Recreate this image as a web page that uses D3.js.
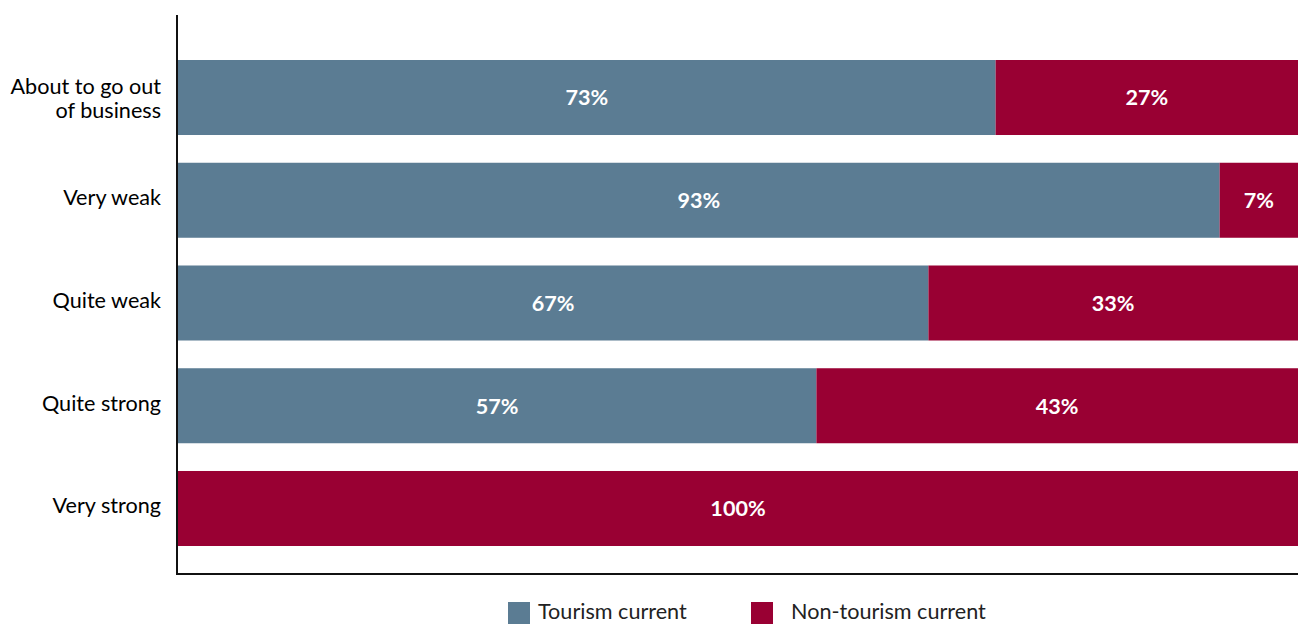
<!DOCTYPE html>
<html>
<head>
<meta charset="utf-8">
<script src="https://cdn.jsdelivr.net/npm/d3@7"></script>
<style>
  html, body { margin: 0; padding: 0; background: #fff; }
  svg { display: block; font-family: Lato, "Open Sans", sans-serif; }
</style>
</head>
<body>
<svg id="chart" width="1298" height="624"></svg>
<script>
// Business strength categories, top to bottom
const categories = ["About to go out of business", "Very weak", "Quite weak", "Quite strong", "Very strong"];
// Share of respondents (%) per category
const tourismCurrent = [73, 93, 67, 57, 0];
const nonTourismCurrent = [27, 7, 33, 43, 100];
const seriesNames = ["Tourism current", "Non-tourism current"];
const seriesColors = ["#5b7c93", "#990033"];

const svg = d3.select("#chart");
const W = 1298;
const axisX = 177, axisTop = 15, plotBottom = 574;
const fontSize = 21.6;

const x = d3.scaleLinear().domain([0, 100]).range([axisX + 1, W]);
const y = d3.scaleBand().domain(categories).range([60, 546]).paddingInner(0.27).paddingOuter(0);

const rows = categories.map((c, i) => ({ cat: c, vals: [tourismCurrent[i], nonTourismCurrent[i]] }));

// stacked bars with centred value labels
rows.forEach(r => {
  let acc = 0;
  r.vals.forEach((v, si) => {
    const x0 = x(acc), x1 = x(acc + v);
    acc += v;
    if (v <= 0) return;
    svg.append("rect")
      .attr("x", x0).attr("y", y(r.cat))
      .attr("width", x1 - x0).attr("height", y.bandwidth())
      .attr("fill", seriesColors[si]);
    svg.append("text")
      .attr("x", (x0 + x1) / 2).attr("y", y(r.cat) + y.bandwidth() / 2)
      .attr("dy", "0.36em").attr("text-anchor", "middle")
      .attr("fill", "#fff").attr("font-weight", "bold").attr("font-size", fontSize)
      .text(v + "%");
  });
});

// axes
svg.append("line").attr("x1", axisX).attr("x2", axisX)
  .attr("y1", axisTop).attr("y2", plotBottom + 1)
  .attr("stroke", "#111").attr("stroke-width", 2);
svg.append("line").attr("x1", axisX - 1).attr("x2", W)
  .attr("y1", plotBottom).attr("y2", plotBottom)
  .attr("stroke", "#111").attr("stroke-width", 2);

// category labels (long one wraps onto two lines)
const wrapMap = { "About to go out of business": ["About to go out", "of business"] };
categories.forEach(c => {
  const lines = wrapMap[c] || [c];
  const cy = y(c) + y.bandwidth() / 2 + (lines.length > 1 ? 1 : -3);
  const t = svg.append("text").attr("text-anchor", "end").attr("font-size", fontSize).attr("fill", "#000");
  lines.forEach((ln, i) => {
    t.append("tspan").attr("x", 161)
      .attr("y", cy + (i - (lines.length - 1) / 2) * 24)
      .attr("dy", "0.36em").text(ln);
  });
});

// legend
const legendPos = [{ x: 508, tx: 538 }, { x: 751, tx: 791 }];
seriesNames.forEach((n, i) => {
  svg.append("rect").attr("x", legendPos[i].x).attr("y", 602)
    .attr("width", 22).attr("height", 22).attr("fill", seriesColors[i]);
  svg.append("text").attr("x", legendPos[i].tx).attr("y", 611)
    .attr("dy", "0.36em").attr("font-size", fontSize).attr("fill", "#222").text(n);
});
</script>
</body>
</html>
